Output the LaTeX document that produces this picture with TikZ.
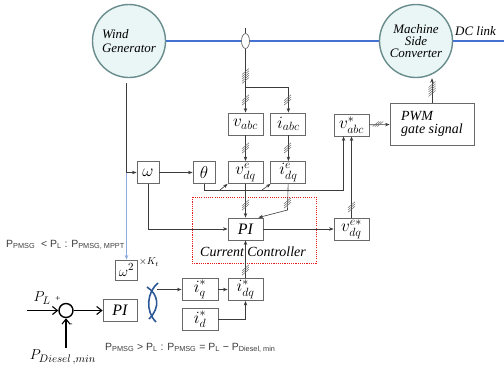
\documentclass[tikz,border=0pt]{standalone}
\usepackage{amsmath}
\usepackage{fontspec}
\setmainfont{Liberation Serif}
\newfontfamily\notesans{Liberation Sans}
\usepackage{xcolor}
\usepackage{tikz}
\usetikzlibrary{positioning,arrows.meta,shapes.geometric}

\definecolor{linegray}{RGB}{60,60,60}
\definecolor{boxgray}{RGB}{105,105,105}
\definecolor{circfill}{RGB}{234,246,246}
\definecolor{circedge}{RGB}{105,140,140}
\definecolor{busblue}{RGB}{68,114,210}
\definecolor{speedblue}{RGB}{140,170,225}
\definecolor{limblue}{RGB}{45,88,150}
\definecolor{ctrlred}{RGB}{225,30,30}

\begin{document}
\begin{tikzpicture}[x=1bp,y=-1bp,>={Stealth[length=4.5bp,width=3.5bp]},
  hatch/.pic={\foreach \d in {-2.2,0,2.2} \draw[boxgray,line width=0.5bp] (-3.5,3+\d) -- (3.5,-3+\d);},
  bighatch/.pic={\foreach \d in {-4.5,-2.25,0,2.25,4.5} \draw[boxgray,line width=0.5bp] (-3.5,3+\d) -- (3.5,-3+\d);},
  hhatch/.pic={\foreach \d in {-2.2,0,2.2} \draw[boxgray,line width=0.5bp] (-3+\d,2.5) -- (3+\d,-2.5);}]
  \tikzstyle{machine}=[circle,draw=circedge,fill=circfill,line width=1.4bp,minimum size=73bp,inner sep=0pt,font=\fontsize{13}{12}\selectfont\itshape]
  \tikzstyle{blk}=[draw=boxgray,line width=0.9bp,minimum width=35bp,minimum height=22bp,inner sep=0pt,font=\fontsize{17}{18}\selectfont]
  \tikzstyle{wire}=[draw=linegray,line width=0.6bp]
  \tikzstyle{bus}=[draw=busblue,line width=1.1bp]
  \tikzstyle{bigarrow}=[draw=black,line width=1.1bp,-{Straight Barb[length=5bp,width=8bp]}]
  \tikzstyle{limiter}=[draw=limblue,line width=1.6bp]
  \tikzstyle{note}=[anchor=west,text=linegray,inner sep=0pt,font=\notesans\fontsize{10.5}{12}\selectfont]

  \useasboundingbox (0,0) rectangle (504,365);

  % machines and the DC bus
  \node[machine,align=left] (wg) at (129,41) {Wind\\[2bp]Generator};
  \node[machine,align=center] (msc) at (416,41) {Machine\\Side\\Converter};
  \coordinate (dcend) at (504,41);
  \draw[bus] (wg) -- (msc);
  \draw[bus] (msc) -- (dcend);
  \node[anchor=west,inner sep=0pt,font=\fontsize{13}{14}\selectfont\itshape] (dc) at (455,31) {DC link};

  % measurement
  \coordinate (cttop) at (245.5,28);
  \node[ellipse,draw=boxgray,fill=white,line width=0.7bp,minimum width=8bp,minimum height=15bp,inner sep=0pt] (ct) at (245.5,41) {};
  \draw[wire] (cttop) -- (ct);

  % blocks
  \node[blk] (vabc) at (245.5,124) {$v_{abc}$};
  \node[blk,right=7bp of vabc] (iabc) {$i_{abc}$};
  \node[blk] (vdqe) at (245.5,172.5) {$v_{dq}^{e}$};
  \node[blk,right=7bp of vdqe] (idqe) {$i_{dq}^{e}$};
  \node[blk,minimum width=22bp] (theta) at (204,172.5) {$\theta$};
  \node[blk,minimum width=22bp] (omega) at (148,172.5) {$\omega$};
  \node[blk] (vabcs) at (351.5,125) {$v_{abc}^{*}$};
  \node[blk,minimum width=84bp,minimum height=42bp,align=left,font=\fontsize{14}{13}\selectfont\itshape] (pwm) at (432,124) {PWM\\gate signal};
  \node[blk,font=\fontsize{16}{17}\selectfont\itshape] (pic) at (245.5,229) {PI};
  \node[blk] (vdqs) at (351.5,229) {$v_{dq}^{e*}$};
  \node[blk] (idqs) at (245.5,289.5) {$i_{dq}^{*}$};
  \node[blk,minimum width=36bp] (iqs) at (200,289.5) {$i_{q}^{*}$};
  \node[blk,minimum width=36bp] (ids) at (200,319.5) {$i_{d}^{*}$};
  \node[blk,minimum width=22bp,minimum height=20bp,font=\fontsize{15}{16}\selectfont] (omsq) at (126.5,270) {$\omega^{2}$};
  \node[blk,minimum width=34bp,font=\fontsize{16}{17}\selectfont\itshape] (pio) at (120,310.5) {PI};
  \node[circle,draw=black,line width=1.4bp,minimum size=14bp,inner sep=0pt] (sum) at (66,310.5) {};

  % current controller frame
  \draw[ctrlred,line width=0.9bp,dash pattern=on 1.1bp off 1.1bp] (192,197) rectangle (316,263);
  \node[font=\fontsize{14}{15}\selectfont\itshape] (cclabel) at (253,252) {Current Controller};

  % measurement wiring
  \coordinate (tap) at (245.5,87);
  \draw[wire,->] (ct) -- (vabc);
  \draw[wire,->] (tap) -| (iabc);
  \pic at (245.5,76) {bighatch};
  \pic at (245.5,100) {hatch};
  \pic at (287.5,100) {hatch};
  \draw[wire,->] (vabc) -- (vdqe);
  \draw[wire,->] (iabc) -- (idqe);
  \pic at (245.5,148) {hatch};
  \pic at (287.5,148) {hatch};

  % speed and angle
  \coordinate (wgfoot) at (126.5,83);
  \coordinate (wtap) at (126.5,172.5);
  \draw[wire] (wgfoot) -- (wtap);
  \draw[wire,->] (wtap) -- (omega);
  \draw[speedblue,line width=0.8bp,->] (wtap) -- (omsq);
  \draw[wire,->] (omega) -- (theta);
  \coordinate (thbus) at (204,190);
  \coordinate (th1) at (220,190);
  \coordinate (th2) at (262,190);
  \draw[wire,->] (theta) -- (thbus) -| ([xshift=10bp]vabcs.south west);
  \draw[wire,->] (th1) -- (vdqe.south west);
  \draw[wire,->] (th2) -- (idqe.south west);

  % controller wiring
  \coordinate (ibend) at (287.5,210);
  \draw[wire,->] (vdqe) -- (pic);
  \draw[wire,->] (idqe) -- (ibend) -- ([xshift=-5bp]pic.north east);
  \pic at (245.5,205) {hatch};
  \pic at (287.5,203) {hatch};
  \draw[wire,->] (omega) |- (pic);
  \draw[wire,->] (pic) -- (vdqs);
  \draw[wire,->] (vdqs) -- (vabcs);
  \pic at (351.5,207) {hatch};
  \draw[wire,->] (vabcs) -- (pwm);
  \pic at (378,124) {hhatch};
  \draw[wire,->] (pwm.north) -- (pwm.north |- msc.south);
  \pic at (432,89) {bighatch};

  % current references
  \draw[wire,->] (idqs) -- (pic);
  \pic at (245.5,270) {hatch};
  \draw[wire,->] (iqs) -- (idqs);
  \draw[wire,->] (ids) -| (idqs);
  \coordinate (limout) at (157,289.5);
  \draw[limiter] (158,283) .. controls (147,292) and (145,311) .. (156,322);
  \draw[limiter] (147,287) .. controls (158,294) and (161,307) .. (149,319);
  \draw[wire,->] (limout) -- (iqs);
  \node[font=\fontsize{10}{11}\selectfont,inner sep=0pt] (ktlabel) at (149,262) {$\times K_t$};

  % power balance
  \coordinate (plin) at (27,310.5);
  \coordinate (pdin) at (66,348);
  \draw[bigarrow] (plin) -- (sum);
  \draw[bigarrow] (sum) -- (pio);
  \draw[bigarrow] (pdin) -- (sum);
  \node[font=\fontsize{15}{16}\selectfont,inner sep=0pt] (pl) at (42,298) {$P_L$};
  \node[font=\fontsize{9}{10}\selectfont,inner sep=0pt] (plus) at (58,299) {+};
  \node[font=\fontsize{9}{10}\selectfont,inner sep=0pt] (minus) at (71,325) {-};
  \node[font=\fontsize{15}{16}\selectfont,inner sep=0pt] (pdiesel) at (63,357) {$P_{Diesel\,,min}$};

  \node[note] (mppt) at (6,245) {P\textsubscript{PMSG} ~< P\textsubscript{L} : P\textsubscript{PMSG, MPPT}};
  \node[note] (dmin) at (105,348) {P\textsubscript{PMSG} > P\textsubscript{L} : P\textsubscript{PMSG} = P\textsubscript{L} − P\textsubscript{Diesel, min}};
\end{tikzpicture}
\end{document}
